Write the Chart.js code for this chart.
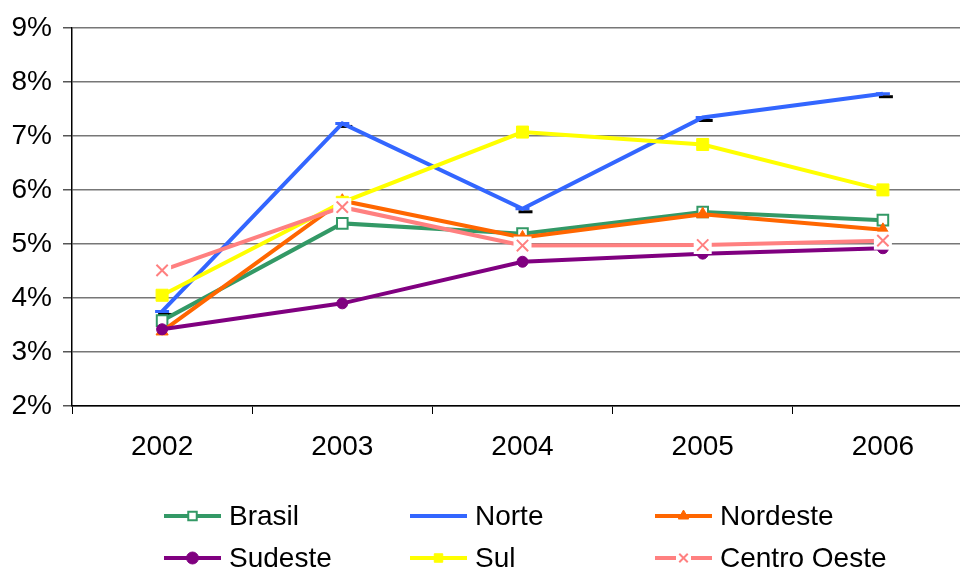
<!DOCTYPE html>
<html>
<head>
<meta charset="utf-8">
<script src="https://cdn.jsdelivr.net/npm/chart.js@4.4.1/dist/chart.umd.min.js"></script>
<style>
  html, body { margin: 0; padding: 0; background: #fff; overflow: hidden; width: 960px; height: 570px; }
  #wrap { position: absolute; left: 0; top: 0; width: 983px; height: 470px; }
  #legend { position: absolute; left: 0; top: 0; width: 960px; height: 570px; pointer-events: none; }
  .item { position: absolute; display: flex; align-items: center; height: 30px;
          font-family: "Liberation Sans", Arial, sans-serif; font-size: 28px; color: #000; }
  .item canvas { margin-right: 8px; }
</style>
</head>
<body>
<div id="wrap"><canvas id="line-chart"></canvas></div>
<div id="legend"></div>
<script>
// chart data (percent)
const years = ['2002', '2003', '2004', '2005', '2006'];
const brasil = [3.58, 5.38, 5.19, 5.59, 5.44];
const norte = [3.75, 7.23, 5.65, 7.34, 7.78];
const nordeste = [3.38, 5.80, 5.12, 5.55, 5.26];
const sudeste = [3.42, 3.90, 4.67, 4.82, 4.92];
const sul = [4.05, 5.77, 7.07, 6.84, 6.00];
const centroOeste = [4.51, 5.68, 4.97, 4.98, 5.06];
const yTicks = [2, 3, 4, 5, 6, 7, 8, 9];

const series = [
    { label: 'Brasil', data: brasil, color: '#339966', style: 'rect', radius: 7.5, fill: '#ffffff', bw: 2 },
    { label: 'Norte', data: norte, color: '#3366ff', style: 'line', radius: 7, fill: '#3366ff', bw: 3 },
    { label: 'Nordeste', data: nordeste, color: '#ff6600', style: 'triangle', radius: 7, fill: '#ff6600', bw: 1 },
    { label: 'Sudeste', data: sudeste, color: '#800080', style: 'circle', radius: 5.5, fill: '#800080', bw: 1 },
    { label: 'Sul', data: sul, color: '#ffff00', style: 'rect', radius: 8.5, fill: '#ffff00', bw: 1 },
    { label: 'Centro Oeste', data: centroOeste, color: '#ff8080', style: 'crossRot', radius: 7, fill: '#ff8080', bw: 2 }
];

const FONT = { size: 28, family: "'Liberation Sans', Arial, sans-serif" };

// black shadow under the Norte dashes, white box behind the Centro Oeste crosses
const markerExtras = {
    id: 'markerExtras',
    beforeDatasetsDraw(chart) {
        const ctx = chart.ctx;
        chart.data.datasets.forEach((ds, i) => {
            if (ds.label !== 'Norte') return;
            const meta = chart.getDatasetMeta(i);
            ctx.save();
            ctx.strokeStyle = '#000';
            ctx.lineWidth = 3;
            meta.data.forEach(p => {
                ctx.beginPath();
                ctx.moveTo(p.x - 4, p.y + 3);
                ctx.lineTo(p.x + 10, p.y + 3);
                ctx.stroke();
            });
            ctx.restore();
        });
    },
    afterDatasetsDraw(chart) {
        const ctx = chart.ctx;
        chart.data.datasets.forEach((ds, i) => {
            if (ds.label !== 'Centro Oeste') return;
            const meta = chart.getDatasetMeta(i);
            ctx.save();
            meta.data.forEach(p => {
                ctx.fillStyle = '#fff';
                ctx.fillRect(p.x - 9, p.y - 9, 18, 18);
                ctx.strokeStyle = ds.borderColor;
                ctx.lineWidth = 2;
                Chart.helpers.drawPoint(ctx, { pointStyle: 'crossRot', radius: 8, borderWidth: 2, rotation: 0 }, p.x, p.y);
            });
            ctx.restore();
        });
    }
};

const ctx = document.getElementById('line-chart').getContext('2d');
new Chart(ctx, {
    type: 'line',
    data: {
        labels: years,
        datasets: series.map((s, i) => ({
            label: s.label,
            data: s.data,
            order: series.length - i,
            borderColor: s.color,
            backgroundColor: s.fill,
            borderWidth: 4,
            tension: 0,
            pointStyle: s.style,
            pointRadius: s.radius,
            pointBorderWidth: s.bw,
            pointBackgroundColor: s.fill,
            pointBorderColor: s.color,
            fill: false
        }))
    },
    options: {
        responsive: true,
        maintainAspectRatio: false,
        animation: false,
        devicePixelRatio: 1,
        layout: { padding: { top: 26, left: 0, right: 0, bottom: 0 } },
        plugins: {
            legend: { display: false },
            tooltip: { enabled: false }
        },
        scales: {
            x: {
                offset: true,
                afterFit: s => { s.height = 64; },
                grid: {
                    display: true,
                    drawOnChartArea: false,
                    offset: true,
                    tickLength: 8,
                    color: '#000',
                    lineWidth: 1
                },
                border: { color: '#000', width: 1.5 },
                ticks: { color: '#000', font: FONT, padding: 16, maxRotation: 0 }
            },
            y: {
                min: yTicks[0],
                max: yTicks[yTicks.length - 1],
                afterFit: s => { s.width = 72; },
                afterBuildTicks: s => { s.ticks = yTicks.map(v => ({ value: v })); },
                grid: {
                    color: '#777',
                    lineWidth: 1.5,
                    tickLength: 9,
                    tickColor: '#555'
                },
                border: { color: '#000', width: 1.5 },
                ticks: {
                    color: '#000',
                    font: FONT,
                    padding: 11,
                    callback: v => v + '%'
                }
            }
        }
    },
    plugins: [markerExtras]
});

// legend, 3 columns x 2 rows
const legendEl = document.getElementById('legend');
const colX = [164, 410, 655];
const rowY = [501, 543];
series.forEach((s, i) => {
    const item = document.createElement('div');
    item.className = 'item';
    item.style.left = colX[i % 3] + 'px';
    item.style.top = rowY[Math.floor(i / 3)] + 'px';
    const c = document.createElement('canvas');
    c.width = 57; c.height = 30;
    const g = c.getContext('2d');
    g.strokeStyle = s.color;
    g.lineWidth = 4;
    g.beginPath(); g.moveTo(0, 15); g.lineTo(57, 15); g.stroke();
    if (s.label === 'Centro Oeste') {
        g.fillStyle = '#fff';
        g.fillRect(21, 8, 15, 14);
    }
    g.fillStyle = s.fill;
    g.strokeStyle = s.color;
    g.lineWidth = s.label === 'Norte' ? 3 : Math.min(s.bw, 2);
    Chart.helpers.drawPoint(g, { pointStyle: s.style, radius: s.label === 'Norte' ? 5 : 6, borderWidth: g.lineWidth, rotation: 0 }, 28.5, 15);
    item.appendChild(c);
    const t = document.createElement('span');
    t.textContent = s.label;
    item.appendChild(t);
    legendEl.appendChild(item);
});
</script>
</body>
</html>
